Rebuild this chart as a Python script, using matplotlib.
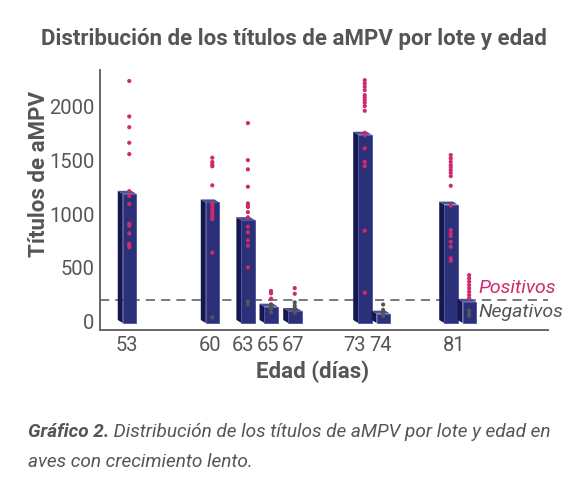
import matplotlib
matplotlib.use("Agg")
import matplotlib.pyplot as plt
from matplotlib.patches import Polygon, Rectangle

plt.rcParams['font.family'] = ['Roboto', 'DejaVu Sans']

# datos
etiquetas_edad = ["53", "60", "63", "65", "67", "73", "74", "81"]
pos_etiquetas = [52.8, 59.8, 62.6, 64.7, 66.8, 72.0, 74.2, 80.4]

pos_lotes = [53.0, 60.0, 63.0, 64.95, 66.95, 72.85, 74.4, 80.1, 81.65]
media_lote = [1190, 1110, 945, 140, 100, 1740, 75, 1090, 185]
titulos = [
    [2240, 1910, 1810, 1665, 1560, 1215, 1170, 1095, 912, 893, 822, 726, 711, 692],
    [1526, 1486, 1464, 1446, 1269, 1101, 1079, 1048, 1023, 999, 977, 955, 642, 41],
    [1848, 1504, 1418, 1256, 1101, 1086, 1067, 1020, 971, 884, 832, 757, 707, 506, 190, 162],
    [286, 264, 215, 162, 140, 121, 87],
    [313, 260, 180, 149, 125, 102, 84],
    [2248, 2218, 2186, 2155, 2109, 2087, 2062, 2037, 2007, 1963, 1758, 1737, 1613,
     1488, 1448, 847, 270],
    [160, 110, 80, 55],
    [1551, 1520, 1488, 1458, 1436, 1411, 1386, 1355, 1265, 1079, 853, 822, 797,
     744, 698, 590, 567],
    [434, 404, 372, 341, 311, 279, 248, 218, 105, 75, 55],
]
corte = 200

gris = "#555555"
rosa = "#cf2a6d"

fig = plt.figure(figsize=(5.88, 4.94), dpi=100)
ax = fig.add_axes([0.170, 0.332, 0.762, 0.526])

# barras con efecto 3D
d = 0.42
dy = 28
base = -12
for p, h in zip(pos_lotes, media_lote):
    xl, xf, xr = p - 0.97, p - 0.55, p + 0.6
    ax.add_patch(Polygon([(xl, base + dy), (xf, base), (xf, h), (xl, h + dy)],
                         closed=True, facecolor="#15184f", edgecolor="none", zorder=2))
    ax.add_patch(Rectangle((xf, base), xr - xf, h - base,
                           facecolor="#2b3178", edgecolor="#4a50a0", lw=0.6, zorder=2))
    ax.add_patch(Polygon([(xl, h + dy), (xf, h), (xr, h), (xr - d, h + dy)],
                         closed=True, facecolor="#4a4f96", edgecolor="none", zorder=2))

# títulos individuales
for p, vals in zip(pos_lotes, titulos):
    cols = [rosa if v > corte else gris for v in vals]
    ax.scatter([p] * len(vals), vals, s=9, c=cols, zorder=3, linewidths=0)

ax.axhline(corte, color=gris, lw=1.1, dashes=(6, 4), zorder=1)

ax.set_xlim(50.53, 88.3)
ax.set_ylim(-77, 2341)
ax.set_xticks(pos_etiquetas)
ax.set_xticklabels(etiquetas_edad)
ax.set_yticks([0, 500, 1000, 1500, 2000])
ax.tick_params(length=0, labelsize=14.5, labelcolor=gris, pad=4)
for s in ["top", "right"]:
    ax.spines[s].set_visible(False)
for s in ["left", "bottom"]:
    ax.spines[s].set_color("#666666")
    ax.spines[s].set_linewidth(1.4)

ax.set_ylabel("Títulos de aMPV", fontsize=16, fontweight="bold", color=gris)
ax.yaxis.set_label_coords(-0.112, 0.6)
ax.set_xlabel("Edad (días)", fontsize=16, fontweight="bold", color=gris)
ax.xaxis.set_label_coords(0.475, -0.118)

ax.text(82.4, corte + 28, "Positivos", color=rosa, fontsize=14, style="italic",
        ha="left", va="bottom")
ax.text(82.4, corte - 28, "Negativos", color=gris, fontsize=14, style="italic",
        ha="left", va="top")

fig.text(0.5, 0.922, "Distribución de los títulos de aMPV por lote y edad",
         fontsize=16, fontweight="bold", color=gris, ha="center", va="center")

fig.canvas.draw()
r = fig.canvas.get_renderer()
t1 = fig.text(0.048, 0.125, "Gráfico 2.", fontsize=13.7, fontweight="bold", style="italic",
              color=gris, ha="left", va="center")
ancho = t1.get_window_extent(r).width / fig.bbox.width
fig.text(0.048 + ancho, 0.125, " Distribución de los títulos de aMPV por lote y edad en",
         fontsize=13.7, style="italic", color=gris, ha="left", va="center")
fig.text(0.048, 0.065, "aves con crecimiento lento.", fontsize=13.7, style="italic",
         color=gris, ha="left", va="center")

fig.savefig("out.png", dpi=100)
